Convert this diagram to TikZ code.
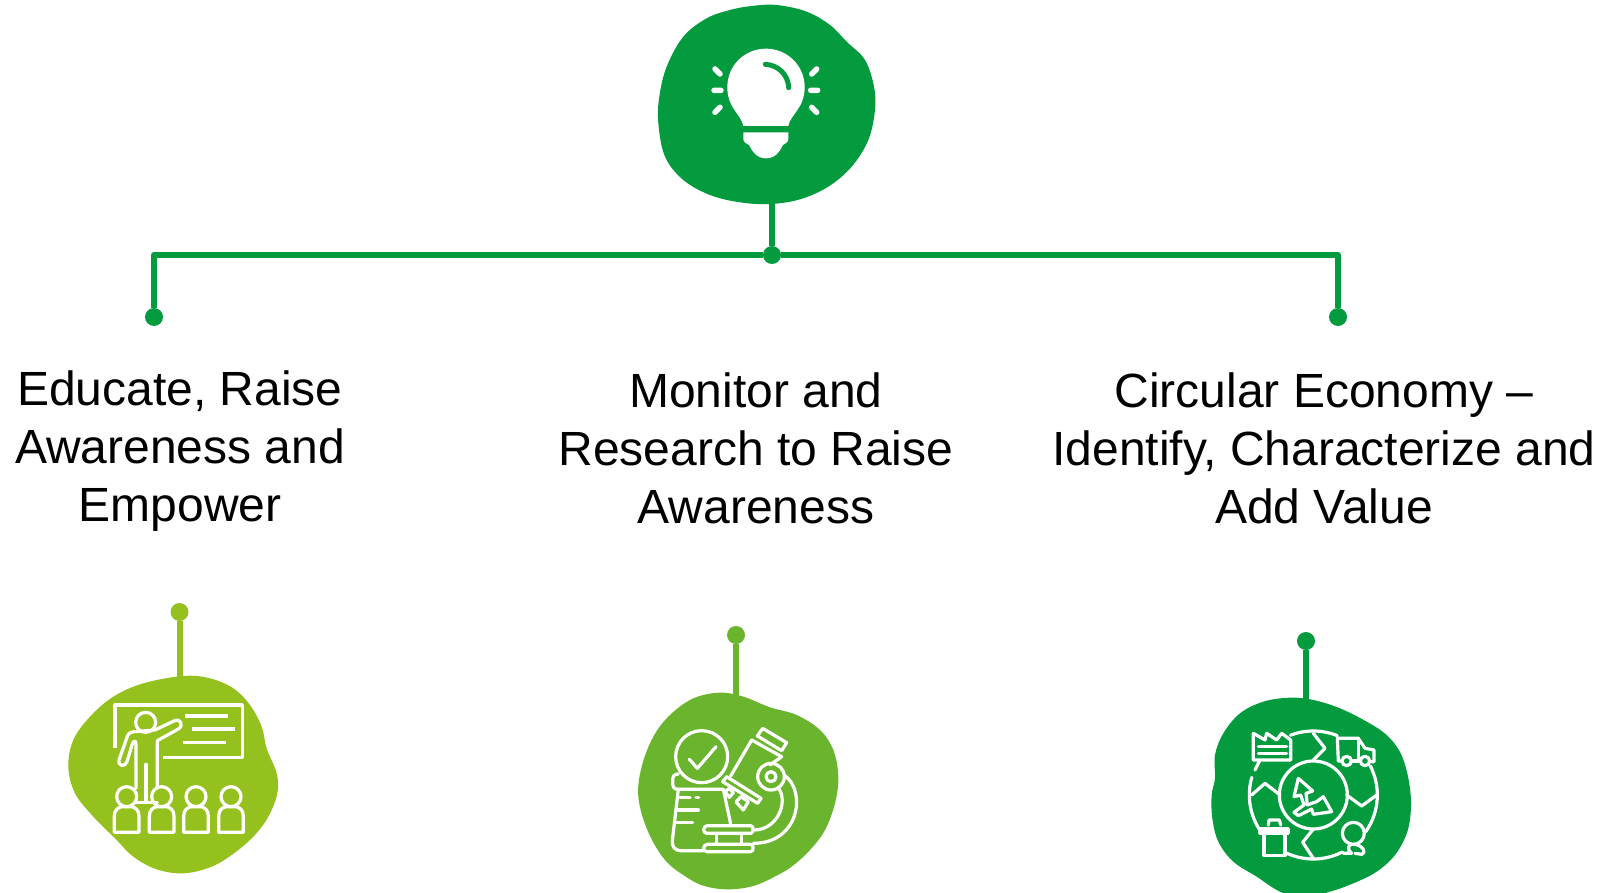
\documentclass[tikz,border=0pt]{standalone}
\usepackage{fontspec}
\setmainfont{Liberation Sans}
\definecolor{gDark}{HTML}{049B3F}
\definecolor{gLime}{HTML}{95C11F}
\definecolor{gMid}{HTML}{6BB42E}
\tikzset{
  lbl/.style={font=\fontsize{48}{58}\selectfont,align=center,inner sep=0pt,text=black},
  dotnode/.style={circle,fill=#1,draw=none,minimum size=18pt,inner sep=0pt},
  conn/.style={draw=#1,line width=6pt},
  icon/.style={draw=white,line width=3.2pt,line cap=round,line join=round},
  zoomed/.style={shift={#1},x=0.33333pt,y=-0.33333pt},
  blobline/.style={smooth cycle,tension=0.6}
}
\begin{document}
\begin{tikzpicture}[x=1pt,y=-1pt]
\useasboundingbox (0,0) rectangle (1601,893);
\clip (0,0) rectangle (1601,893);

% ---- nodes of the tree
\node[dotnode=gDark] (hub) at (772,255) {};
\node[dotnode=gDark] (dl) at (154,317) {};
\node[dotnode=gDark] (dr) at (1338,317) {};
\coordinate (topb) at (772,200);
\node[dotnode=gLime] (d1) at (179.5,612) {};
\coordinate (b1) at (179.5,680);
\node[dotnode=gMid] (d2) at (736,635) {};
\coordinate (b2) at (736,700);
\node[dotnode=gDark] (d3) at (1306,641) {};
\coordinate (b3) at (1306,705);

\draw[conn=gDark] (topb) -- (hub);
\draw[conn=gDark,line join=round] (hub) -| (dl);
\draw[conn=gDark,line join=round] (hub) -| (dr);
\draw[conn=gLime] (d1) -- (b1);
\draw[conn=gMid] (d2) -- (b2);
\draw[conn=gDark] (d3) -- (b3);

% ---- labels
\node[lbl] (t1) at (180,451) {Educate, Raise\\Awareness and\\Empower};
\node[lbl] (t2) at (756,448) {Monitor and\\Research to Raise\\Awareness};
\node[lbl] (t3) at (1324,448) {Circular Economy –\\Identify, Characterize and\\Add Value};

% ---- top blob with bulb
\begin{scope}[zoomed={(620,0)}]
\fill[gDark] plot[blobline] coordinates {(395,18)(470,15)(560,35)(630,75)(680,125)(735,180)(762,260)(765,330)(745,420)(695,500)(625,560)(540,598)(450,612)(360,607)(270,585)(190,540)(135,470)(115,370)(118,290)(140,200)(190,110)(260,55)(330,30)};
\fill[white] (370,378) .. controls (365,345) and (322,325) .. (322,262) .. controls (322,195) and (375,146) .. (438,146) .. controls (500,146) and (554,195) .. (554,262) .. controls (554,325) and (510,345) .. (505,378) -- cycle;
\fill[white] (370,397) -- (505,397) -- (505,418) .. controls (505,428) and (492,432) .. (488,436) .. controls (480,455) and (465,475) .. (438,475) .. controls (411,475) and (396,455) .. (388,436) .. controls (384,432) and (370,428) .. (370,418) -- cycle;
\draw[gDark,line width=5pt,line cap=round] (436,193) .. controls (475,195) and (505,225) .. (506,263);
\draw[white,line width=5.5pt,line cap=round]
  (285,207)--(300,222) (282,271)--(303,271) (285,337)--(300,322)
  (590,207)--(575,222) (572,271)--(593,271) (590,337)--(575,322);
\end{scope}

% ---- left blob with teacher
\begin{scope}[zoomed={(50,580)}]
\fill[gLime] plot[blobline] coordinates {(400,288)(480,295)(550,325)(600,375)(635,440)(650,505)(680,580)(682,640)(655,710)(610,770)(545,825)(480,862)(400,880)(320,868)(250,830)(195,775)(130,710)(75,640)(55,560)(70,480)(120,410)(190,350)(280,310)};
\draw[icon,line cap=butt] (195,505)--(195,375)--(577,375)--(577,532)--(340,532);
\draw[icon,line cap=butt] (405,408)--(535,408) (425,447)--(555,447) (400,487)--(528,487);
\draw[icon] (287,427) circle[radius=30];
\draw[icon] (322,625)--(322,482)--(385,447) .. controls (402,437) and (392,412) .. (372,423) -- (315,450) -- (252,455) .. controls (238,456) and (232,465) .. (230,475) -- (207,540) .. controls (203,560) and (226,562) .. (231,545) -- (247,492) .. controls (250,482) and (258,480) .. (258,492) -- (258,625);
\draw[icon] (288,553)--(288,662) (258,668)--(322,668);
\foreach \sx in {230,335,438,543}{
  \draw[icon] (\sx,650) circle[radius=30];
  \draw[icon] ({\sx-37},757) -- ({\sx-37},708) .. controls ({\sx-37},690) and ({\sx-25},682) .. ({\sx-15},680) -- ({\sx+15},680) .. controls ({\sx+25},682) and ({\sx+37},690) .. ({\sx+37},708) -- ({\sx+37},757) -- cycle;
}
\end{scope}

% ---- middle blob with microscope
\begin{scope}[zoomed={(610,600)}]
\fill[gMid] plot[blobline] coordinates {(330,278)(400,290)(480,322)(560,345)(630,390)(670,450)(685,530)(675,610)(645,690)(600,750)(545,800)(490,832)(430,858)(360,868)(290,860)(235,835)(165,780)(112,690)(85,590)(95,500)(130,410)(180,345)(250,295)};
\draw[icon] (275,470) circle[radius=78];
\draw[icon] (238,478)--(262,505)--(318,440);
\draw[icon] (340,568)--(205,568) .. controls (190,568) and (188,560) .. (188,545) .. controls (188,530) and (190,522) .. (205,522);
\draw[icon] (205,568)--(187,722) .. controls (185,740) and (195,752) .. (212,752)--(280,752);
\draw[icon] (340,568)--(362,672);
\draw[icon] (210,592)--(240,592) (258,592)--(266,592) (205,630)--(265,630) (200,667)--(248,667);
% eyepiece
\draw[icon] (458,385)--(530,428)--(515,452)--(442,408)--cycle;
\draw[icon] (425,420)--(362,528) (515,470)--(480,495);
\draw[icon] (425,420)--(515,470);
% stage
\draw[icon] (350,530)--(453,595)--(443,610)--(338,545)--cycle;
\draw[icon] (345,575)--(358,565)--(370,578)--(358,592)--cycle;
\draw[icon] (378,606)--(393,590)--(415,605)--(400,630)--cycle;
% knob
\draw[icon] (483,530) circle[radius=40];
\draw[icon] (483,530) circle[radius=15];
% arm
\draw[icon] (522,525) .. controls (590,570) and (570,730) .. (430,730);
\draw[icon] (507,567) .. controls (535,610) and (500,690) .. (432,690);
% base
\draw[icon] (292,677)--(422,677) .. controls (432,677) and (432,700) .. (422,700)--(290,700) .. controls (278,700) and (278,677) .. (292,677)--cycle;
\draw[icon] (292,733)--(422,733) .. controls (432,733) and (432,755) .. (422,755)--(290,755) .. controls (278,755) and (278,733) .. (292,733)--cycle;
\draw[icon] (320,700)--(320,733) (395,700)--(395,733);
\end{scope}

% ---- right blob with circular economy
\begin{scope}[zoomed={(1170,605)}]
\fill[gDark] plot[blobline] coordinates {(360,278)(430,285)(510,310)(590,350)(650,390)(692,445)(715,520)(723,600)(712,680)(675,750)(620,800)(550,835)(480,860)(400,878)(330,860)(260,815)(190,770)(145,710)(127,640)(125,570)(135,520)(135,450)(160,385)(210,325)(280,290)};
\coordinate (gc) at (430,570);
\draw[icon] (gc) circle[radius=102];
\draw[icon] (gc) ++(249:192) arc[start angle=249,end angle=292,radius=192];
\draw[icon] (gc) ++(-27:192) arc[start angle=-27,end angle=35,radius=192];
\draw[icon] (gc) ++(63:192) arc[start angle=63,end angle=116,radius=192];
\draw[icon] (gc) ++(146:192) arc[start angle=146,end angle=196,radius=192];
\draw[icon] (430,385)--(465,430)--(430,465);
\draw[icon] (245,570)--(285,535)--(330,570);
\draw[icon] (530,570)--(575,603)--(620,570);
\draw[icon] (430,672)--(398,712)--(430,760);
% factory
\draw[icon] (270,465)--(250,465)--(250,385)--(285,405)--(290,385)--(320,405)--(335,385)--(362,405)--(362,465)--(270,465)--(255,495);
\draw[icon] (265,425)--(350,425) (265,445)--(350,445);
% truck
\draw[icon] (515,468)--(505,468)--(502,400)--(565,400)--(585,430)--(612,435)--(612,470)--(600,470);
\draw[icon] (565,400)--(565,468)--(545,468);
\draw[icon] (530,468) circle[radius=14];
\draw[icon] (585,468) circle[radius=14];
% bin
\draw[icon] (270,672)--(355,672)--(355,684)--(270,684)--cycle;
\draw[icon] (295,660)--(297,645)--(328,645)--(332,660);
\draw[icon] (282,684)--(282,752)--(345,752)--(345,684);
% person
\draw[icon] (550,685) circle[radius=33];
\draw[icon] (520,745)--(545,745) .. controls (530,735) and (535,718) .. (545,718);
\draw[icon] (555,718) .. controls (580,722) and (590,745) .. (575,748)--(555,745);
% recycling arrows
\draw[icon] (385,520)--(372,575)--(392,570)--(402,600)--(372,622)--(385,632)--(425,612)--(430,628)--(485,620)--(460,575)--(440,590)--(425,595)--(412,600)--(408,565)--(428,558)--(385,520);
\end{scope}
\end{tikzpicture}
\end{document}
